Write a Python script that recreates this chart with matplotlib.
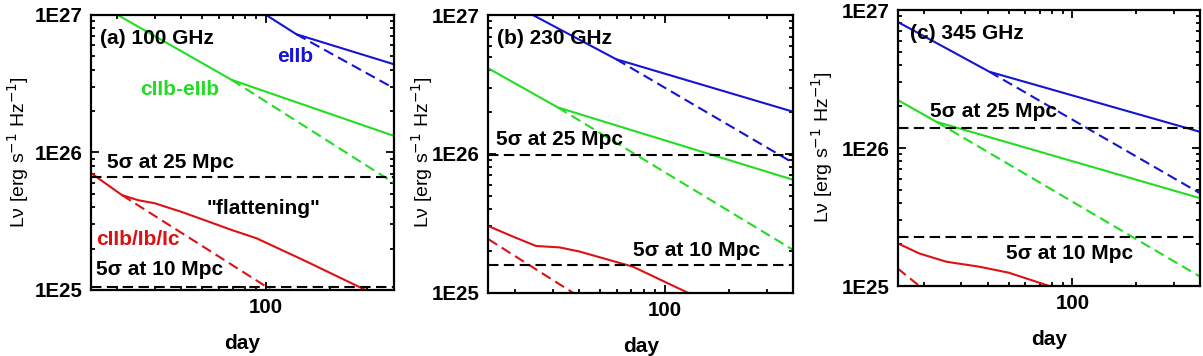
import matplotlib
matplotlib.use("Agg")
import matplotlib.pyplot as plt
from matplotlib.ticker import LogLocator, NullFormatter

plt.rcParams['font.family'] = ['Liberation Sans', 'DejaVu Sans']

BLUE = '#1414d2'
GREEN = '#22dd22'
RED = '#dd1111'

# ---------------- data (day, L_nu [erg s^-1 Hz^-1]) ----------------
# Panel (a) 100 GHz
a_blue_solid_x = [90, 139, 400]
a_blue_solid_y = [1.11e27, 7.24e26, 4.38e26]
a_blue_dash_x = [139, 400]
a_blue_dash_y = [7.24e26, 2.93e26]
a_green_solid_x = [15, 69, 400]
a_green_solid_y = [1.29e27, 3.37e26, 1.32e26]
a_green_dash_x = [69, 400]
a_green_dash_y = [3.37e26, 6.0e25]
a_red_solid_x = [15, 18, 21, 25, 30, 40, 55, 69, 90, 150, 294, 400]
a_red_solid_y = [7.1e25, 5.8e25, 4.9e25, 4.5e25, 4.27e25, 3.7e25, 3.1e25, 2.73e25, 2.38e25, 1.65e25, 1.0e25, 7.9e24]
a_red_dash_x = [21, 100, 120]
a_red_dash_y = [4.9e25, 1.06e25, 8.4e24]
a_limits = [6.6e25, 1.06e25]

# Panel (b) 230 GHz
b_blue_solid_x = [15, 59.5, 400]
b_blue_solid_y = [1.48e27, 4.8e26, 2.01e26]
b_blue_dash_x = [59.5, 400]
b_blue_dash_y = [4.8e26, 8.6e25]
b_green_solid_x = [15, 31.7, 400]
b_green_solid_y = [4.13e26, 2.16e26, 6.5e25]
b_green_dash_x = [31.7, 400]
b_green_dash_y = [2.16e26, 2.03e25]
b_red_solid_x = [15, 20, 25.1, 32.3, 40, 71.1, 128.5, 200]
b_red_solid_y = [3.02e25, 2.5e25, 2.17e25, 2.12e25, 1.98e25, 1.54e25, 1.0e25, 7.5e24]
b_red_dash_x = [15, 37.3, 45]
b_red_dash_y = [2.43e25, 1.0e25, 7.7e24]
b_limits = [9.8e25, 1.58e25]

# Panel (c) 345 GHz
c_blue_solid_x = [15, 40.6, 400]
c_blue_solid_y = [8.2e26, 3.57e26, 1.31e26]
c_blue_dash_x = [40.6, 400]
c_blue_dash_y = [3.57e26, 4.7e25]
c_green_solid_x = [15, 22.8, 400]
c_green_solid_y = [2.23e26, 1.55e26, 4.33e25]
c_green_dash_x = [22.8, 400]
c_green_dash_y = [1.55e26, 1.17e25]
c_red_solid_x = [15, 19, 25.4, 36.4, 50, 77.9, 120]
c_red_solid_y = [2.04e25, 1.72e25, 1.5e25, 1.38e25, 1.25e25, 1.0e25, 8.0e24]
c_red_dash_x = [15, 19, 22]
c_red_dash_y = [1.34e25, 1.0e25, 8.5e24]
c_limits = [1.4e26, 2.27e25]

panel_titles = ['(a) 100 GHz', '(b) 230 GHz', '(c) 345 GHz']
limit_labels = ['5σ at 25 Mpc', '5σ at 10 Mpc']
y_ticks = [1e25, 1e26, 1e27]
y_ticklabels = ['1E25', '1E26', '1E27']
x_ticks = [100]
x_ticklabels = ['100']

# ---------------- figure ----------------
fig = plt.figure(figsize=(12.03, 3.56), dpi=100)
rects = [
    [0.0756, 0.1854, 0.2519, 0.7725],
    [0.4059, 0.1778, 0.2535, 0.7800],
    [0.7462, 0.1966, 0.2513, 0.7753],
]
panels = [
    (a_blue_solid_x, a_blue_solid_y, a_blue_dash_x, a_blue_dash_y,
     a_green_solid_x, a_green_solid_y, a_green_dash_x, a_green_dash_y,
     a_red_solid_x, a_red_solid_y, a_red_dash_x, a_red_dash_y, a_limits),
    (b_blue_solid_x, b_blue_solid_y, b_blue_dash_x, b_blue_dash_y,
     b_green_solid_x, b_green_solid_y, b_green_dash_x, b_green_dash_y,
     b_red_solid_x, b_red_solid_y, b_red_dash_x, b_red_dash_y, b_limits),
    (c_blue_solid_x, c_blue_solid_y, c_blue_dash_x, c_blue_dash_y,
     c_green_solid_x, c_green_solid_y, c_green_dash_x, c_green_dash_y,
     c_red_solid_x, c_red_solid_y, c_red_dash_x, c_red_dash_y, c_limits),
]

LW = 1.5
DASH = (5, 2.6)
FS = 15
axes = []
for i, (rect, p) in enumerate(zip(rects, panels)):
    ax = fig.add_axes(rect)
    axes.append(ax)
    (bsx, bsy, bdx, bdy, gsx, gsy, gdx, gdy, rsx, rsy, rdx, rdy, lims) = p
    ax.plot(bsx, bsy, color=BLUE, lw=LW)
    ax.plot(bdx, bdy, color=BLUE, lw=LW, ls=(0, DASH))
    ax.plot(gsx, gsy, color=GREEN, lw=LW)
    ax.plot(gdx, gdy, color=GREEN, lw=LW, ls=(0, DASH))
    ax.plot(rsx, rsy, color=RED, lw=LW)
    ax.plot(rdx, rdy, color=RED, lw=LW, ls=(0, DASH))
    for lv in lims:
        ax.axhline(lv, color='black', lw=LW, ls=(0, DASH))

    ax.set_xscale('log')
    ax.set_yscale('log')
    ax.set_xlim(15, 400)
    ax.set_ylim(1e25, 1e27)

    ax.set_xticks(x_ticks)
    ax.set_xticklabels(x_ticklabels)
    ax.xaxis.set_minor_locator(LogLocator(base=10, subs=range(2, 10)))
    ax.xaxis.set_minor_formatter(NullFormatter())
    ax.set_yticks(y_ticks)
    ax.set_yticklabels(y_ticklabels)
    ax.yaxis.set_minor_locator(LogLocator(base=10, subs=range(2, 10)))
    ax.yaxis.set_minor_formatter(NullFormatter())

    ax.tick_params(which='both', direction='in', top=True, right=True, width=1.3)
    ax.tick_params(which='major', length=6, labelsize=14.8, pad=6)
    ax.tick_params(which='minor', length=3)
    for lab in ax.get_xticklabels() + ax.get_yticklabels():
        lab.set_fontweight('bold')
    for s in ax.spines.values():
        s.set_linewidth(1.6)

    ax.set_xlabel('day', fontsize=15, fontweight='bold', labelpad=12)

    ax.text(0.03 if i < 2 else 0.04, 0.915, panel_titles[i], transform=ax.transAxes,
            fontsize=FS, fontweight='bold', va='center', ha='left')

# y labels placed in figure pixels
for xc, yc in [(18, 152), (421.7, 152), (821.7, 147)]:
    fig.text(xc / 1203, 1 - yc / 356, 'Lν [erg s$^{-1}$ Hz$^{-1}$]', rotation=90,
             ha='center', va='center', fontsize=14)

ax1, ax2, ax3 = axes
kw = dict(fontsize=FS, fontweight='bold', va='center')
ax1.text(0.673, 0.848, 'eIIb', color=BLUE, ha='center', transform=ax1.transAxes, **kw)
ax1.text(0.294, 0.73, 'cIIb-eIIb', color=GREEN, ha='center', transform=ax1.transAxes, **kw)
ax1.text(0.261, 0.464, limit_labels[0], color='black', ha='center', transform=ax1.transAxes, **kw)
ax1.text(0.569, 0.297, '"flattening"', color='black', ha='center', transform=ax1.transAxes, **kw)
ax1.text(0.156, 0.184, 'cIIb/Ib/Ic', color=RED, ha='center', transform=ax1.transAxes, **kw)
ax1.text(0.228, 0.075, limit_labels[1], color='black', ha='center', transform=ax1.transAxes, **kw)

ax2.text(0.235, 0.55, limit_labels[0], color='black', ha='center', transform=ax2.transAxes, **kw)
ax2.text(0.683, 0.151, limit_labels[1], color='black', ha='center', transform=ax2.transAxes, **kw)

ax3.text(0.316, 0.632, limit_labels[0], color='black', ha='center', transform=ax3.transAxes, **kw)
ax3.text(0.57, 0.118, limit_labels[1], color='black', ha='center', transform=ax3.transAxes, **kw)

fig.savefig('out.png', dpi=100)
